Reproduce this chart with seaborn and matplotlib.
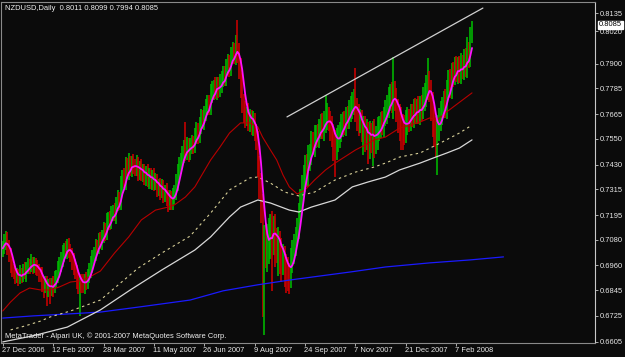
import numpy as np
import pandas as pd
import matplotlib
matplotlib.use("Agg")
import matplotlib.pyplot as plt
import matplotlib.transforms as mtransforms
import seaborn as sns

# ---------------- data (prices in pips, i.e. price * 10000) ----------------
first_open_pips = 7030
close_pips = [
    7040, 7065, 7085, 7050, 7010, 6965, 6935, 6930, 6905, 6915,
    6900, 6925, 6912, 6935, 6922, 6948, 6962, 6958, 6975, 6955,
    6968, 6950, 6940, 6925, 6915, 6880, 6870, 6878, 6850, 6865,
    6852, 6872, 6862, 6895, 6905, 6935, 6958, 6990, 7015, 7035,
    7030, 7050, 7028, 7015, 6985, 6955, 6930, 6902, 6878, 6885,
    6880, 6872, 6890, 6882, 6915, 6935, 6965, 7000, 7010, 7048,
    7045, 7078, 7070, 7095, 7125, 7110, 7165, 7180, 7160, 7200,
    7212, 7195, 7245, 7270, 7255, 7330, 7365, 7350, 7405, 7400,
    7430, 7415, 7435, 7420, 7415, 7425, 7400, 7412, 7390, 7395,
    7375, 7388, 7365, 7375, 7355, 7368, 7345, 7350, 7322, 7330,
    7312, 7322, 7300, 7305, 7278, 7265, 7275, 7258, 7282, 7300,
    7345, 7390, 7425, 7450, 7478, 7500, 7495, 7510, 7490, 7515,
    7530, 7520, 7562, 7585, 7570, 7612, 7645, 7630, 7670, 7695,
    7715, 7700, 7760, 7780, 7790, 7775, 7800, 7780, 7805, 7825,
    7850, 7835, 7885, 7900, 7880, 7938, 7958, 7940, 7985, 7955,
    7890, 7820, 7730, 7680, 7660, 7665, 7640, 7648, 7620, 7635,
    7590, 7560, 7440, 7350, 7250, 7080, 7100, 7030, 7075, 7110,
    7120, 7100, 7130, 7085, 7070, 7075, 7030, 7005, 7010, 6970,
    6950, 6930, 6925, 6985, 7020, 7055, 7095, 7125, 7190, 7265,
    7335, 7380, 7420, 7410, 7470, 7480, 7530, 7520, 7555, 7570,
    7560, 7595, 7610, 7600, 7630, 7640, 7655, 7630, 7600, 7580,
    7545, 7520, 7550, 7560, 7585, 7605, 7625, 7620, 7655, 7640,
    7680, 7695, 7710, 7722, 7690, 7655, 7630, 7640, 7595, 7605,
    7570, 7585, 7545, 7575, 7565, 7580, 7550, 7560, 7595, 7610,
    7625, 7620, 7655, 7670, 7700, 7725, 7745, 7720, 7760, 7735,
    7690, 7655, 7640, 7620, 7610, 7600, 7630, 7640, 7635, 7665,
    7655, 7685, 7670, 7690, 7675, 7700, 7685, 7730, 7755, 7785,
    7815, 7780, 7715, 7650, 7610, 7585, 7600, 7640, 7665, 7695,
    7720, 7700, 7775, 7815, 7790, 7860, 7850, 7875, 7860, 7880,
    7862, 7890, 7875, 7915, 7895, 7945, 7930, 8011, 8085,
]
wick_up_pips = [
    35, 40, 36, 30, 28, 32, 25, 30, 28, 35,
    30, 38, 25, 32, 40, 28, 35, 30, 38, 25,
    32, 28, 35, 25, 30, 38, 28, 32, 35, 30,
    35, 30, 38, 40, 32, 45, 40, 35, 40, 32,
    38, 35, 40, 30, 28, 32, 35, 30, 38, 32,
    35, 40, 32, 38, 30, 35, 40, 32, 38, 35,
    30, 35, 40, 32, 38, 35, 40, 30, 35, 38,
    32, 38, 35, 40, 30, 45, 40, 50, 60, 55,
    55, 40, 35, 45, 38, 50, 40, 35, 45, 38,
    40, 35, 45, 38, 40, 35, 45, 40, 38, 35,
    38, 40, 35, 32, 40, 35, 38, 32, 40, 35,
    40, 45, 38, 35, 40, 45, 130, 50, 45, 40,
    40, 35, 38, 45, 40, 38, 45, 40, 35, 40,
    40, 38, 45, 40, 35, 50, 40, 38, 45, 40,
    38, 40, 35, 45, 40, 38, 45, 40, 50, 118,
    40, 35, 35, 30, 45, 35, 50, 40, 35, 45,
    35, 30, 25, 30, 40, 45, 50, 60, 80, 70,
    80, 95, 60, 70, 50, 65, 45, 60, 50, 40,
    45, 50, 40, 55, 60, 50, 45, 55, 60, 50,
    45, 50, 55, 60, 50, 45, 55, 50, 60, 45,
    50, 45, 55, 60, 50, 115, 60, 45, 50, 55,
    40, 45, 50, 55, 45, 60, 50, 55, 45, 50,
    50, 55, 60, 60, 160, 50, 55, 50, 45, 50,
    50, 55, 45, 60, 50, 55, 60, 50, 55, 45,
    50, 55, 45, 60, 55, 65, 60, 70, 170, 60,
    50, 45, 55, 60, 45, 50, 55, 60, 50, 45,
    45, 50, 55, 45, 60, 50, 55, 60, 55, 60,
    110, 50, 45, 55, 50, 45, 60, 55, 60, 50,
    55, 60, 50, 55, 60, 45, 50, 55, 60, 50,
    55, 60, 50, 55, 60, 80, 55, 60, 14,
]
wick_dn_pips = [
    30, 28, 35, 40, 32, 38, 30, 35, 32, 28,
    35, 28, 32, 30, 25, 38, 30, 40, 28, 35,
    30, 35, 28, 40, 32, 45, 60, 40, 80, 38,
    70, 35, 50, 30, 35, 28, 32, 30, 35, 40,
    32, 40, 35, 38, 45, 40, 35, 50, 50, 155,
    50, 40, 45, 35, 30, 38, 32, 40, 35, 30,
    35, 30, 32, 38, 30, 35, 32, 40, 35, 30,
    35, 30, 40, 32, 38, 35, 40, 30, 38, 35,
    40, 38, 45, 35, 40, 38, 45, 40, 35, 40,
    38, 45, 40, 50, 38, 45, 40, 35, 45, 40,
    45, 40, 50, 45, 40, 55, 45, 40, 40, 35,
    35, 40, 30, 38, 35, 40, 50, 45, 50, 40,
    35, 40, 38, 35, 45, 40, 38, 35, 40, 38,
    35, 40, 38, 45, 50, 40, 45, 38, 35, 40,
    35, 38, 40, 35, 40, 38, 35, 40, 45, 50,
    60, 80, 60, 55, 60, 50, 55, 60, 50, 55,
    50, 60, 70, 80, 90, 360, 444, 80, 100, 110,
    120, 260, 90, 130, 100, 160, 110, 120, 90, 110,
    120, 90, 100, 70, 60, 55, 50, 45, 40, 50,
    60, 55, 80, 85, 80, 70, 50, 45, 55, 50,
    50, 55, 45, 50, 60, 55, 50, 45, 60, 70,
    100, 150, 70, 60, 55, 50, 45, 50, 55, 45,
    45, 50, 55, 50, 60, 70, 65, 55, 60, 120,
    80, 70, 110, 90, 80, 140, 90, 70, 60, 55,
    55, 50, 60, 45, 50, 55, 45, 50, 80, 55,
    60, 80, 100, 120, 110, 80, 70, 60, 55, 50,
    50, 55, 45, 50, 55, 60, 50, 45, 50, 55,
    55, 60, 80, 90, 100, 120, 204, 60, 55, 50,
    50, 55, 60, 45, 50, 55, 60, 50, 45, 55,
    50, 55, 45, 50, 55, 60, 50, 45, 17,
]

# moving averages (bar index, price in pips)
red_ma_idx = [0, 5, 11, 17, 24, 30, 36, 43, 49, 55, 62, 71, 80, 88, 97, 105, 109, 116, 122,
              132, 138, 144, 151, 157, 162, 165, 170, 174, 178, 182, 187, 192, 198, 205,
              211, 217, 224, 230, 236, 243, 252, 259, 265, 271, 276, 281, 286, 292, 298]
red_ma_pips = [6748, 6790, 6832, 6855, 6846, 6846, 6860, 6883, 6888, 6906, 6934, 7018, 7093,
               7172, 7218, 7232, 7242, 7279, 7326, 7451, 7512, 7577, 7624, 7624, 7605, 7558,
               7498, 7451, 7381, 7326, 7293, 7312, 7358, 7405, 7437, 7465, 7498, 7521, 7545,
               7558, 7600, 7614, 7628, 7647, 7638, 7670, 7698, 7731, 7764]
yellow_ma_idx = [5, 14, 24, 30, 43, 62, 86, 101, 119, 132, 144, 157, 162, 170, 179, 188, 198,
                 211, 224, 236, 243, 252, 265, 278, 290, 298]
yellow_ma_pips = [6660, 6678, 6701, 6720, 6748, 6799, 6948, 7018, 7097, 7204, 7312, 7368, 7372,
                  7344, 7302, 7284, 7302, 7358, 7395, 7419, 7437, 7465, 7484, 7531, 7577, 7614]
white_ma_idx = [0, 19, 41, 62, 81, 101, 122, 132, 144, 151, 162, 170, 182, 188, 196, 211, 222,
                232, 243, 252, 265, 275, 282, 290, 298]
white_ma_pips = [6604, 6632, 6673, 6753, 6846, 6939, 7032, 7093, 7186, 7232, 7265, 7251, 7218,
                 7209, 7232, 7265, 7326, 7349, 7372, 7405, 7437, 7465, 7484, 7507, 7545]
blue_ma_idx = [0, 19, 41, 62, 87, 119, 140, 162, 182, 221, 243, 271, 297, 318]
blue_ma_pips = [6715, 6725, 6734, 6743, 6767, 6799, 6842, 6870, 6892, 6930, 6953, 6972, 6986, 7000]

trend_idx = [180.5, 304.9]
trend_price = [0.7652, 0.8159]

ytick_values = [0.8135, 0.8020, 0.7900, 0.7785, 0.7665, 0.7550, 0.7430, 0.7315,
                0.7195, 0.7080, 0.6960, 0.6845, 0.6725, 0.6605]
xtick_idx = [0, 32, 64, 96, 128, 160, 192, 224, 256, 288]
xtick_labels = ["27 Dec 2006", "12 Feb 2007", "28 Mar 2007", "11 May 2007", "26 Jun 2007",
                "9 Aug 2007", "24 Sep 2007", "7 Nov 2007", "21 Dec 2007", "7 Feb 2008"]
title_text = "NZDUSD,Daily  0.8011 0.8099 0.7994 0.8085"
footer_text = "MetaTrader - Alpari UK, \u00a9 2001-2007 MetaQuotes Software Corp."

# ---------------- build frame ----------------
close = np.array(close_pips) / 10000.0
open_ = np.r_[first_open_pips / 10000.0, close[:-1]]
high = np.maximum(open_, close) + np.array(wick_up_pips) / 10000.0
low = np.minimum(open_, close) - np.array(wick_dn_pips) / 10000.0
idx = np.arange(len(close))
df = pd.DataFrame({"i": idx, "open": open_, "high": high, "low": low, "close": close})
df["ma_fast"] = df["close"].rolling(5, min_periods=1).mean()

def ma_frame(ix, pips):
    return pd.DataFrame({"i": ix, "v": np.array(pips) / 10000.0})

# ---------------- style ----------------
BG = "#0b0b0b"
sns.set_theme(style="dark", rc={"axes.facecolor": BG, "figure.facecolor": BG})
plt.rcParams["font.family"] = ["Liberation Sans", "DejaVu Sans"]
FS = 5.4

fig = plt.figure(figsize=(6.25, 3.57), dpi=100, facecolor=BG)
ax = fig.add_axes([1 / 625, 14 / 357, 594 / 625, 341 / 357])
ax.set_facecolor(BG)
ax.grid(False)

up = df["close"] >= df["open"]
cols = np.where(up, "#00bb00", "#cc0000")
ax.vlines(df["i"], df["low"], df["high"], colors=cols, linewidth=1.15, zorder=2)

sns.lineplot(data=ma_frame(blue_ma_idx, blue_ma_pips), x="i", y="v", ax=ax, color="#1a1aff",
             linewidth=0.9, estimator=None, sort=False, zorder=3)
sns.lineplot(data=ma_frame(white_ma_idx, white_ma_pips), x="i", y="v", ax=ax, color="#d8d8d8",
             linewidth=0.9, estimator=None, sort=False, zorder=3)
sns.lineplot(data=ma_frame(yellow_ma_idx, yellow_ma_pips), x="i", y="v", ax=ax, color="#d8d098",
             linewidth=0.8, linestyle=(0, (2.2, 3.0)), estimator=None, sort=False, zorder=3)
sns.lineplot(data=ma_frame(red_ma_idx, red_ma_pips), x="i", y="v", ax=ax, color="#b80000",
             linewidth=0.8, estimator=None, sort=False, zorder=3)
sns.lineplot(data=df, x="i", y="ma_fast", ax=ax, color="#ff10ff", linewidth=1.3,
             estimator=None, sort=False, zorder=4)
sns.lineplot(x=trend_idx, y=trend_price, ax=ax, color="#d0d0d0", linewidth=0.9, zorder=4)

ax.set_xlim(-1.1, 376.1)
ax.set_ylim(0.65989, 0.81873)
ax.set_xlabel("")
ax.set_ylabel("")

# axes / ticks
for s in ["top", "bottom", "left"]:
    ax.spines[s].set_color("#8a8a8a")
    ax.spines[s].set_linewidth(0.8)
    ax.spines[s].set_visible(True)
ax.spines["right"].set_color("#c8c8c8")
ax.spines["right"].set_linewidth(0.8)
ax.spines["right"].set_visible(True)

ax.yaxis.tick_right()
ax.set_yticks(ytick_values)
ax.set_yticklabels([f"{v:.4f}" for v in ytick_values])
ax.tick_params(axis="y", which="both", direction="out", length=2.5, width=0.6,
               color="#c8c8c8", labelcolor="#e8e8e8", labelsize=FS, pad=1.2,
               right=True, left=False, labelright=True, labelleft=False)
ax.set_xticks(xtick_idx)
ax.set_xticklabels(xtick_labels, ha="left")
ax.tick_params(axis="x", which="both", direction="out", length=2.0, width=0.6,
               color="#c8c8c8", labelcolor="#e8e8e8", labelsize=FS, pad=1.0, bottom=True)
for lab in ax.get_xticklabels():
    lab.set_transform(lab.get_transform() + mtransforms.ScaledTranslation(-1 / 100, 0, fig.dpi_scale_trans))

# the 0.8020 label sits just under the current-price box
shift = mtransforms.ScaledTranslation(0, 6.5 / 100, fig.dpi_scale_trans)
for tick in ax.yaxis.get_major_ticks():
    if abs(tick.get_loc() - 0.8020) < 1e-6:
        tick.label2.set_transform(tick.label2.get_transform() + shift)
        tick.tick2line.set_transform(tick.tick2line.get_transform() + shift)

# current price box
last_close = close[-1]
bt = mtransforms.blended_transform_factory(ax.transAxes, ax.transData)
box_off = mtransforms.ScaledTranslation(0, -1 / 100, fig.dpi_scale_trans)
ax.text(1.0 + 4 / 594, last_close, f"{last_close:.4f}", transform=bt + box_off, ha="left",
        va="center", fontsize=FS, color="black", clip_on=False, zorder=1,
        bbox=dict(boxstyle="square,pad=0.1", fc="white", ec="white"))

fig.text(5 / 625, 1 - 8 / 357, title_text, ha="left", va="center", fontsize=FS, color="#f0f0f0")
fig.text(5 / 625, 1 - 336 / 357, footer_text, ha="left", va="center", fontsize=FS, color="#f0f0f0")

fig.savefig("out.png", dpi=100, facecolor=BG)
